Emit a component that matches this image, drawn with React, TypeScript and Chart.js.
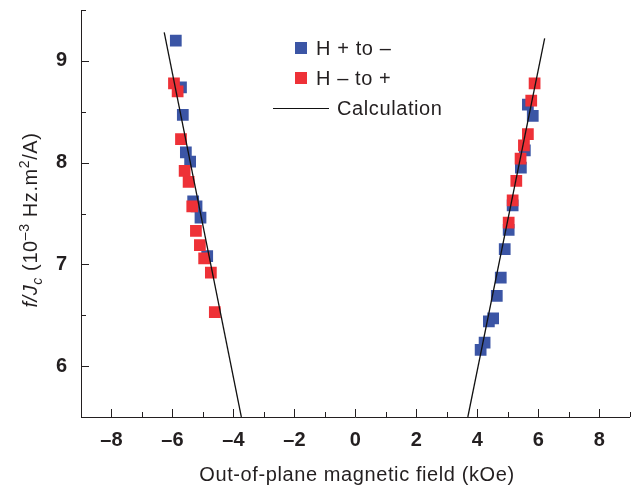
import React, { useEffect, useRef } from 'react';
import { Chart, registerables } from 'chart.js';

Chart.register(...registerables);

// ---- data ----
const blueX = [-5.89, -5.72, -5.66, -5.56, -5.42, -5.32, -5.21, -5.08, -4.86, 5.66, 5.82, 5.56, 5.43, 5.16, 5.03, 4.90, 4.77, 4.64, 4.52, 4.38, 4.24, 4.11];
const blueY = [9.20, 8.74, 8.47, 8.10, 8.01, 7.62, 7.57, 7.46, 7.08, 8.57, 8.46, 8.12, 7.95, 7.58, 7.34, 7.15, 6.87, 6.69, 6.47, 6.44, 6.23, 6.16];

const redX = [-5.95, -5.83, -5.72, -5.60, -5.47, -5.35, -5.23, -5.10, -4.96, -4.74, -4.61, 5.88, 5.77, 5.66, 5.53, 5.42, 5.28, 5.16, 5.03];
const redY = [8.78, 8.70, 8.23, 7.92, 7.81, 7.57, 7.33, 7.19, 7.06, 6.92, 6.53, 8.78, 8.61, 8.28, 8.17, 8.04, 7.82, 7.63, 7.41];

const calcLeftX = [-6.27, -3.74];
const calcLeftY = [9.28, 5.5];
const calcRightX = [3.69, 6.21];
const calcRightY = [5.5, 9.22];

const xMajorTicks = [-8, -6, -4, -2, 0, 2, 4, 6, 8];
const xMinorTicks = [-9, -7, -5, -3, -1, 1, 3, 5, 7, 9];
const yMajorTicks = [6, 7, 8, 9];
const yMinorTicks = [5.5, 6.5, 7.5, 8.5, 9.5];

const legendLabels = ['H + to \u2013', 'H \u2013 to +', 'Calculation'];
const xTitle = 'Out-of-plane magnetic field (kOe)';

const BLUE = '#3b55a5';
const RED = '#ee3137';
const INK = '#231f20';
const FONT = '"Liberation Sans", Arial, Helvetica, sans-serif';

const pts = (xs: number[], ys: number[]) => xs.map((x, i) => ({ x, y: ys[i] }));

const fmt = (v: number) => (v < 0 ? '\u2013' + Math.abs(v) : String(v));

const customPlugin = {
  id: 'customDraw',
  afterDraw(chart: any) {
    const ctx: CanvasRenderingContext2D = chart.ctx;
    const xs = chart.scales.x;
    const ys = chart.scales.y;
    const { left, bottom } = chart.chartArea;
    ctx.save();
    // inward ticks
    ctx.strokeStyle = INK;
    ctx.lineWidth = 1;
    ctx.beginPath();
    const xt = (v: number, len: number) => {
      const p = Math.round(xs.getPixelForValue(v)) + 0.5;
      ctx.moveTo(p, bottom);
      ctx.lineTo(p, bottom - len);
    };
    const yt = (v: number, len: number) => {
      const p = Math.round(ys.getPixelForValue(v)) + 0.5;
      ctx.moveTo(left, p);
      ctx.lineTo(left + len, p);
    };
    xMajorTicks.forEach((v) => xt(v, 8));
    xMinorTicks.forEach((v) => xt(v, 5));
    yMajorTicks.forEach((v) => yt(v, 8));
    yMinorTicks.forEach((v) => yt(v, 5));
    ctx.stroke();

    (ctx as any).letterSpacing = '0.6px';
    ctx.fillStyle = INK;

    // x title
    ctx.font = `20px ${FONT}`;
    ctx.textAlign = 'center';
    ctx.textBaseline = 'alphabetic';
    ctx.fillText(xTitle, 357, 481);

    // y title (rich text, rotated)
    const segs: [string, string, number][] = [
      ['f/J', `italic 20px ${FONT}`, 0],
      ['c', `italic 14px ${FONT}`, 5],
      [' (10', `20px ${FONT}`, 0],
      ['\u20133', `14px ${FONT}`, -8],
      [' Hz.m', `20px ${FONT}`, 0],
      ['2', `14px ${FONT}`, -8],
      ['/A)', `20px ${FONT}`, 0],
    ];
    ctx.textAlign = 'left';
    let total = 0;
    const widths = segs.map(([t, f]) => {
      ctx.font = f;
      const w = ctx.measureText(t).width;
      total += w;
      return w;
    });
    ctx.save();
    ctx.translate(37, 220);
    ctx.rotate(-Math.PI / 2);
    let cx = -total / 2;
    segs.forEach(([t, f, dy], i) => {
      ctx.font = f;
      ctx.fillText(t, cx, dy);
      cx += widths[i];
    });
    ctx.restore();

    // legend
    ctx.font = `20px ${FONT}`;
    ctx.textAlign = 'left';
    ctx.textBaseline = 'middle';
    const rows = [48, 78, 108];
    ctx.fillStyle = BLUE;
    ctx.fillRect(295, rows[0] - 6, 12, 12);
    ctx.fillStyle = RED;
    ctx.fillRect(295, rows[1] - 6, 12, 12);
    ctx.strokeStyle = '#111';
    ctx.lineWidth = 1.2;
    ctx.beginPath();
    ctx.moveTo(273, rows[2] + 0.5);
    ctx.lineTo(329, rows[2] + 0.5);
    ctx.stroke();
    ctx.fillStyle = INK;
    ctx.fillText(legendLabels[0], 316, rows[0] + 1);
    ctx.fillText(legendLabels[1], 316, rows[1] + 1);
    ctx.fillText(legendLabels[2], 337, rows[2] + 1);
    ctx.restore();
  },
};

export default function App() {
  const ref = useRef<HTMLCanvasElement>(null);
  useEffect(() => {
    if (!ref.current) return;
    const chart = new Chart(ref.current, {
      type: 'scatter',
      data: {
        datasets: [
          {
            label: legendLabels[0],
            data: pts(blueX, blueY),
            backgroundColor: BLUE,
            pointStyle: 'rect',
            pointRadius: 8.3,
            borderWidth: 0,
            order: 2,
          },
          {
            label: legendLabels[1],
            data: pts(redX, redY),
            backgroundColor: RED,
            pointStyle: 'rect',
            pointRadius: 8.3,
            borderWidth: 0,
            order: 1,
          },
          {
            label: legendLabels[2],
            data: pts(calcLeftX, calcLeftY),
            showLine: true,
            borderColor: '#111',
            borderWidth: 1.3,
            pointRadius: 0,
            order: 0,
          },
          {
            label: legendLabels[2] + ' 2',
            data: pts(calcRightX, calcRightY),
            showLine: true,
            borderColor: '#111',
            borderWidth: 1.3,
            pointRadius: 0,
            order: 0,
          },
        ],
      },
      options: {
        responsive: false,
        animation: false,
        layout: { padding: { top: 10, right: 7, left: 0, bottom: 0 } },
        plugins: { legend: { display: false }, tooltip: { enabled: false } },
        scales: {
          x: {
            type: 'linear',
            min: -9,
            max: 9,
            grid: { display: false, drawTicks: false },
            border: { display: true, color: INK, width: 1 },
            ticks: {
              stepSize: 1,
              padding: 11,
              color: INK,
              font: { family: FONT, size: 20, weight: 'bold' },
              maxRotation: 0,
              autoSkip: false,
              callback: (v: any) => (Number(v) % 2 === 0 ? fmt(Number(v)) : ''),
            },
            afterFit: (s: any) => {
              s.height = 72;
              s.paddingLeft = 0;
              s.paddingRight = 0;
            },
          },
          y: {
            type: 'linear',
            min: 5.5,
            max: 9.5,
            grid: { display: false, drawTicks: false },
            border: { display: true, color: INK, width: 1 },
            ticks: {
              stepSize: 0.5,
              padding: 14,
              color: INK,
              font: { family: FONT, size: 20, weight: 'bold' },
              autoSkip: false,
              callback: (v: any) => (Number.isInteger(Number(v)) ? String(v) : ''),
            },
            afterFit: (s: any) => {
              s.width = 81;
              s.paddingTop = 0;
              s.paddingBottom = 0;
            },
          },
        },
      },
      plugins: [customPlugin],
    } as any);
    return () => chart.destroy();
  }, []);
  return (
    <div style={{ position: 'fixed', left: 0, top: 0, width: 638, height: 489, background: '#fff' }}>
      <canvas ref={ref} width={638} height={489} style={{ display: 'block' }} />
    </div>
  );
}
